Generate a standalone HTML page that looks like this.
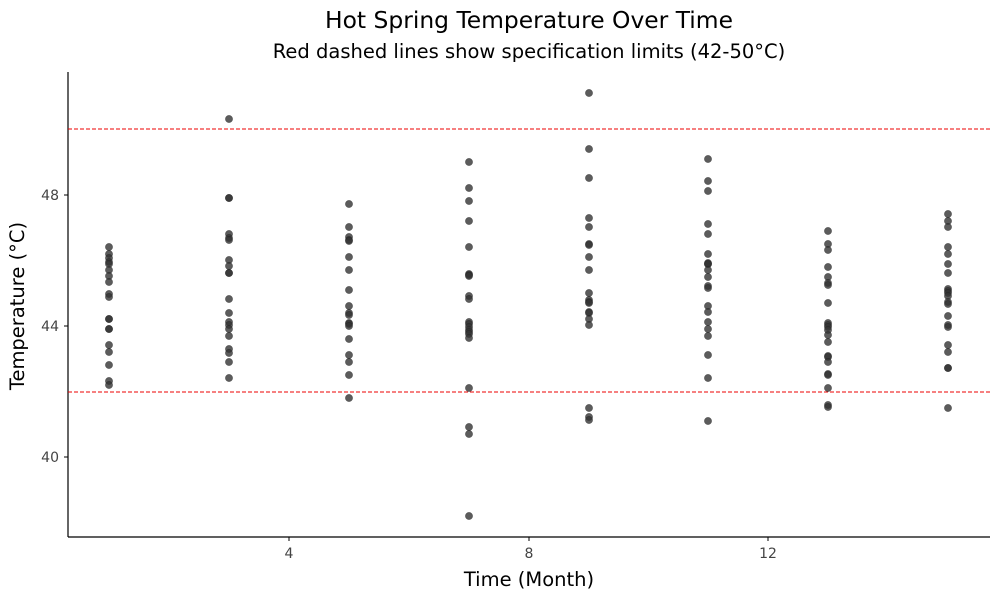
<!DOCTYPE html><html><head><meta charset="utf-8"><style>body{margin:0;background:#fff}svg{display:block;font-family:"DejaVu Sans","Liberation Sans",sans-serif}</style></head><body>
<svg width="1000" height="600" viewBox="0 0 1000 600">
<text x="529" y="28" text-anchor="middle" font-size="23.4" fill="#000">Hot Spring Temperature Over Time</text>
<text x="529" y="58" text-anchor="middle" font-size="19.5" fill="#000">Red dashed lines show specification limits (42-50°C)</text>
<line x1="68" y1="72" x2="68" y2="537" stroke="#000" stroke-width="1.2"/>
<line x1="68" y1="537" x2="990" y2="537" stroke="#000" stroke-width="1.2"/>
<g font-size="14" fill="#444" text-anchor="end">
<text x="59" y="200">48</text><text x="59" y="331">44</text><text x="59" y="462">40</text></g>
<g stroke="#000"><line x1="64" y1="195" x2="68" y2="195"/><line x1="64" y1="326" x2="68" y2="326"/><line x1="64" y1="457" x2="68" y2="457"/>
<line x1="289" y1="537" x2="289" y2="541"/><line x1="529" y1="537" x2="529" y2="541"/><line x1="768" y1="537" x2="768" y2="541"/></g>
<g font-size="14" fill="#444" text-anchor="middle"><text x="289" y="558">4</text><text x="529" y="558">8</text><text x="768" y="558">12</text></g>
<text x="529" y="586" text-anchor="middle" font-size="19.5">Time (Month)</text>
<text transform="translate(24,306) rotate(-90)" text-anchor="middle" font-size="19.5">Temperature (°C)</text>
<line x1="68" y1="129" x2="990" y2="129" stroke="#e00" stroke-width="1" stroke-dasharray="4,2"/>
<line x1="68" y1="392" x2="990" y2="392" stroke="#e00" stroke-width="1" stroke-dasharray="4,2"/>
<g fill="#333" fill-opacity="0.8" stroke="#222" stroke-opacity="0.6" stroke-width="0.6">
<g transform="translate(109,0)"><circle cy="247" r="3.6"/><circle cy="254" r="3.6"/><circle cy="258" r="3.6"/><circle cy="262" r="3.6"/><circle cy="264" r="3.6"/><circle cy="270" r="3.6"/><circle cy="276" r="3.6"/><circle cy="282" r="3.6"/><circle cy="294" r="3.6"/><circle cy="297" r="3.6"/><circle cy="319" r="3.6"/><circle cy="319" r="3.6"/><circle cy="329" r="3.6"/><circle cy="329" r="3.6"/><circle cy="345" r="3.6"/><circle cy="352" r="3.6"/><circle cy="365" r="3.6"/><circle cy="381" r="3.6"/><circle cy="385" r="3.6"/></g>
<g transform="translate(229,0)"><circle cy="119" r="3.6"/><circle cy="198" r="3.6"/><circle cy="198" r="3.6"/><circle cy="234" r="3.6"/><circle cy="238" r="3.6"/><circle cy="240" r="3.6"/><circle cy="260" r="3.6"/><circle cy="266" r="3.6"/><circle cy="273" r="3.6"/><circle cy="273" r="3.6"/><circle cy="299" r="3.6"/><circle cy="313" r="3.6"/><circle cy="322" r="3.6"/><circle cy="325" r="3.6"/><circle cy="329" r="3.6"/><circle cy="336" r="3.6"/><circle cy="349" r="3.6"/><circle cy="353" r="3.6"/><circle cy="362" r="3.6"/><circle cy="378" r="3.6"/></g>
<g transform="translate(349,0)"><circle cy="204" r="3.6"/><circle cy="227" r="3.6"/><circle cy="237" r="3.6"/><circle cy="240" r="3.6"/><circle cy="241" r="3.6"/><circle cy="257" r="3.6"/><circle cy="270" r="3.6"/><circle cy="290" r="3.6"/><circle cy="306" r="3.6"/><circle cy="313" r="3.6"/><circle cy="315" r="3.6"/><circle cy="323" r="3.6"/><circle cy="324" r="3.6"/><circle cy="326" r="3.6"/><circle cy="339" r="3.6"/><circle cy="355" r="3.6"/><circle cy="362" r="3.6"/><circle cy="375" r="3.6"/><circle cy="398" r="3.6"/></g>
<g transform="translate(469,0)"><circle cy="162" r="3.6"/><circle cy="188" r="3.6"/><circle cy="201" r="3.6"/><circle cy="221" r="3.6"/><circle cy="247" r="3.6"/><circle cy="274" r="3.6"/><circle cy="275" r="3.6"/><circle cy="276" r="3.6"/><circle cy="296" r="3.6"/><circle cy="299" r="3.6"/><circle cy="322" r="3.6"/><circle cy="324" r="3.6"/><circle cy="327" r="3.6"/><circle cy="330" r="3.6"/><circle cy="332" r="3.6"/><circle cy="334" r="3.6"/><circle cy="338" r="3.6"/><circle cy="388" r="3.6"/><circle cy="427" r="3.6"/><circle cy="434" r="3.6"/><circle cy="516" r="3.6"/></g>
<g transform="translate(589,0)"><circle cy="93" r="3.6"/><circle cy="149" r="3.6"/><circle cy="178" r="3.6"/><circle cy="218" r="3.6"/><circle cy="227" r="3.6"/><circle cy="244" r="3.6"/><circle cy="245" r="3.6"/><circle cy="257" r="3.6"/><circle cy="270" r="3.6"/><circle cy="293" r="3.6"/><circle cy="300" r="3.6"/><circle cy="302" r="3.6"/><circle cy="303" r="3.6"/><circle cy="312" r="3.6"/><circle cy="313" r="3.6"/><circle cy="319" r="3.6"/><circle cy="325" r="3.6"/><circle cy="408" r="3.6"/><circle cy="417" r="3.6"/><circle cy="420" r="3.6"/></g>
<g transform="translate(708,0)"><circle cy="159" r="3.6"/><circle cy="181" r="3.6"/><circle cy="191" r="3.6"/><circle cy="224" r="3.6"/><circle cy="234" r="3.6"/><circle cy="254" r="3.6"/><circle cy="264" r="3.6"/><circle cy="263" r="3.6"/><circle cy="264" r="3.6"/><circle cy="270" r="3.6"/><circle cy="277" r="3.6"/><circle cy="286" r="3.6"/><circle cy="288" r="3.6"/><circle cy="306" r="3.6"/><circle cy="312" r="3.6"/><circle cy="322" r="3.6"/><circle cy="329" r="3.6"/><circle cy="336" r="3.6"/><circle cy="355" r="3.6"/><circle cy="378" r="3.6"/><circle cy="421" r="3.6"/></g>
<g transform="translate(828,0)"><circle cy="231" r="3.6"/><circle cy="244" r="3.6"/><circle cy="250" r="3.6"/><circle cy="267" r="3.6"/><circle cy="277" r="3.6"/><circle cy="283" r="3.6"/><circle cy="285" r="3.6"/><circle cy="303" r="3.6"/><circle cy="323" r="3.6"/><circle cy="325" r="3.6"/><circle cy="327" r="3.6"/><circle cy="330" r="3.6"/><circle cy="335" r="3.6"/><circle cy="342" r="3.6"/><circle cy="356" r="3.6"/><circle cy="357" r="3.6"/><circle cy="362" r="3.6"/><circle cy="374" r="3.6"/><circle cy="375" r="3.6"/><circle cy="388" r="3.6"/><circle cy="405" r="3.6"/><circle cy="407" r="3.6"/></g>
<g transform="translate(948,0)"><circle cy="214" r="3.6"/><circle cy="221" r="3.6"/><circle cy="227" r="3.6"/><circle cy="247" r="3.6"/><circle cy="254" r="3.6"/><circle cy="264" r="3.6"/><circle cy="273" r="3.6"/><circle cy="289" r="3.6"/><circle cy="291" r="3.6"/><circle cy="293" r="3.6"/><circle cy="296" r="3.6"/><circle cy="302" r="3.6"/><circle cy="304" r="3.6"/><circle cy="316" r="3.6"/><circle cy="325" r="3.6"/><circle cy="327" r="3.6"/><circle cy="345" r="3.6"/><circle cy="352" r="3.6"/><circle cy="368" r="3.6"/><circle cy="368" r="3.6"/><circle cy="408" r="3.6"/></g>
</g>
</svg></body></html>
